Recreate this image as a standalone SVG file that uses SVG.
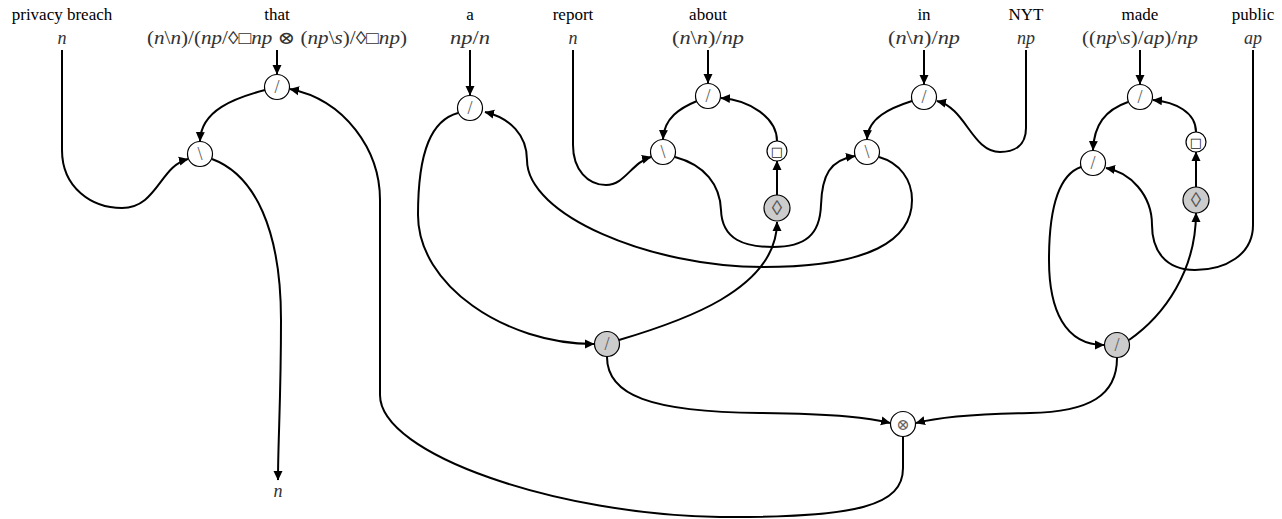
<svg xmlns="http://www.w3.org/2000/svg" width="1282" height="519" viewBox="0 0 1282 519">
<style>
.w{font-family:'Liberation Serif','DejaVu Serif',serif;font-size:17px;fill:#000;text-anchor:middle}
.m{font-family:'Liberation Serif','DejaVu Serif',serif;font-size:18px;fill:#333;text-anchor:middle}
.i{font-style:italic}
.e{fill:none;stroke:#000;stroke-width:2}
.a{marker-end:url(#ah)}
.n{fill:#fff;stroke:#000;stroke-width:1.2}
.g{fill:#ccc;stroke:#000;stroke-width:1.2}
.s{font-family:'Liberation Serif','DejaVu Serif',serif;font-size:18px;fill:#555;text-anchor:middle;dominant-baseline:central}
.d{font-family:'Liberation Serif','DejaVu Serif',serif;font-size:21px;fill:#555;text-anchor:middle;dominant-baseline:central}
.b{font-family:'DejaVu Serif','Liberation Serif',serif;font-size:13px;fill:#222;text-anchor:middle;dominant-baseline:central}
.o{font-family:'DejaVu Serif','DejaVu Sans',serif;font-size:16px;fill:#666;text-anchor:middle;dominant-baseline:central}
</style>
<defs>
<marker id="ah" markerUnits="userSpaceOnUse" markerWidth="10" markerHeight="10" refX="9" refY="5" orient="auto">
<path d="M0,0.5 L9.5,5 L0,9.5 z" fill="#000"/>
</marker>
</defs>

<g id="labels">
<text class="w" x="62" y="20">privacy breach</text>
<text class="m i" x="62" y="44">n</text>
<text class="w" x="277" y="20">that</text>
<text class="m" x="277" y="44" textLength="260" lengthAdjust="spacingAndGlyphs">(<tspan class="i">n</tspan>\<tspan class="i">n</tspan>)/(<tspan class="i">np</tspan>/◊□<tspan class="i">np</tspan> ⊗ (<tspan class="i">np</tspan>\<tspan class="i">s</tspan>)/◊□<tspan class="i">np</tspan>)</text>
<text class="w" x="470" y="20">a</text>
<text class="m" x="470" y="44" textLength="40" lengthAdjust="spacingAndGlyphs"><tspan class="i">np</tspan>/<tspan class="i">n</tspan></text>
<text class="w" x="573" y="20">report</text>
<text class="m i" x="573" y="44">n</text>
<text class="w" x="708" y="20">about</text>
<text class="m" x="708" y="44" textLength="72" lengthAdjust="spacingAndGlyphs">(<tspan class="i">n</tspan>\<tspan class="i">n</tspan>)/<tspan class="i">np</tspan></text>
<text class="w" x="924" y="20">in</text>
<text class="m" x="924" y="44" textLength="72" lengthAdjust="spacingAndGlyphs">(<tspan class="i">n</tspan>\<tspan class="i">n</tspan>)/<tspan class="i">np</tspan></text>
<text class="w" x="1026" y="20">NYT</text>
<text class="m i" x="1026" y="44">np</text>
<text class="w" x="1140" y="20">made</text>
<text class="m" x="1140" y="44" textLength="116" lengthAdjust="spacingAndGlyphs">((<tspan class="i">np</tspan>\<tspan class="i">s</tspan>)/<tspan class="i">ap</tspan>)/<tspan class="i">np</tspan></text>
<text class="w" x="1253" y="20">public</text>
<text class="m i" x="1253" y="44">ap</text>
<text class="m i" x="278" y="497">n</text>
</g>

<g id="connectors">
<path class="e a" d="M62,50 L62,150 C62,188 92,208 122,208 C157,208 160,166 188,159"/>
<path class="e a" d="M277,50 L277,74"/>
<path class="e a" d="M265,90 C235,98 201,110 200,141"/>
<path class="e a" d="M212,159 C255,175 281,230 281,320 C281,400 278,440 278,480"/>
<path class="e a" d="M903,437 L903,468 C903,505 860,518 720,517 C560,515 380,455 380,395 L380,200 C380,150 345,100 290,89"/>
<path class="e a" d="M470,50 L470,95"/>
<path class="e a" d="M458,113 C432,120 418,150 418,215 C418,285 505,344 594,344"/>
<path class="e a" d="M879,157 C900,163 912,180 912,200 C912,240 870,267 763,267 C650,267 527,215 527,160 C527,135 510,118 485,112"/>
<path class="e a" d="M573,50 L573,145 C573,170 588,185 606,185 C625,185 632,162 651,157"/>
<path class="e a" d="M708,50 L708,83"/>
<path class="e a" d="M697,101 C680,108 664,118 663,139"/>
<path class="e a" d="M777,141 C777,118 750,100 721,98"/>
<path class="e a" d="M777,195 L777,161"/>
<path class="e a" d="M675,157 C705,165 720,185 721,210 C722,240 745,247 773,247 C805,247 820,235 821,205 C822,175 830,160 855,156"/>
<path class="e a" d="M619,340 C680,322 777,290 777,222"/>
<path class="e a" d="M924,50 L924,84"/>
<path class="e a" d="M1026,50 L1026,128 C1026,145 1015,152 1000,152 C972,152 966,108 937,101"/>
<path class="e a" d="M912,101 C890,108 868,118 867,139"/>
<path class="e a" d="M1140,50 L1140,84"/>
<path class="e a" d="M1128,102 C1105,110 1094,125 1093,150"/>
<path class="e a" d="M1196,132 C1196,112 1175,102 1153,100"/>
<path class="e a" d="M1196,187 L1196,152"/>
<path class="e a" d="M1081,167 C1058,175 1049,210 1049,260 C1049,310 1065,345 1104,345"/>
<path class="e a" d="M1253,50 L1253,225 C1253,255 1225,270 1195,270 C1165,270 1152,250 1152,225 C1152,195 1130,172 1106,168"/>
<path class="e a" d="M1129,340 C1165,315 1196,270 1196,213"/>
<path class="e a" d="M1117,358 C1117,395 1090,412 1030,413 C970,414 935,418 916,423"/>
<path class="e a" d="M607,357 C607,395 650,412 760,413 C840,414 870,418 890,423"/>
</g>

<g id="node-that"><circle class="n" cx="277" cy="87" r="12.5"/><text class="s" x="277" y="87">/</text></g>
<g id="node-that-bs"><circle class="n" cx="200" cy="154" r="12.5"/><text class="s" x="200" y="154">\</text></g>
<g id="node-a"><circle class="n" cx="470" cy="108" r="12.5"/><text class="s" x="470" y="108">/</text></g>
<g id="node-about"><circle class="n" cx="708" cy="96" r="12.5"/><text class="s" x="708" y="96">/</text></g>
<g id="node-report-bs"><circle class="n" cx="663" cy="152" r="12.5"/><text class="s" x="663" y="152">\</text></g>
<g id="node-about-box"><circle class="n" cx="777" cy="151" r="10"/><text class="b" x="777" y="151">□&#xFE0E;</text></g>
<g id="node-about-dia"><circle class="g" cx="777" cy="208" r="13"/><text class="d" x="777" y="208">◊</text></g>
<g id="node-in"><circle class="n" cx="924" cy="97" r="12.5"/><text class="s" x="924" y="97">/</text></g>
<g id="node-in-bs"><circle class="n" cx="867" cy="152" r="12.5"/><text class="s" x="867" y="152">\</text></g>
<g id="node-made"><circle class="n" cx="1140" cy="97" r="12.5"/><text class="s" x="1140" y="97">/</text></g>
<g id="node-made-2"><circle class="n" cx="1093" cy="163" r="12.5"/><text class="s" x="1093" y="163">/</text></g>
<g id="node-made-box"><circle class="n" cx="1196" cy="142" r="10"/><text class="b" x="1196" y="142">□&#xFE0E;</text></g>
<g id="node-made-dia"><circle class="g" cx="1196" cy="200" r="13"/><text class="d" x="1196" y="200">◊</text></g>
<g id="node-mid-gray"><circle class="g" cx="607" cy="344" r="12.5"/><text class="s" x="607" y="344">/</text></g>
<g id="node-right-gray"><circle class="g" cx="1117" cy="345" r="12.5"/><text class="s" x="1117" y="345">/</text></g>
<g id="node-otimes"><circle class="n" cx="903" cy="424" r="12.5"/><text class="o" x="903" y="424">⊗</text></g>
</svg>
